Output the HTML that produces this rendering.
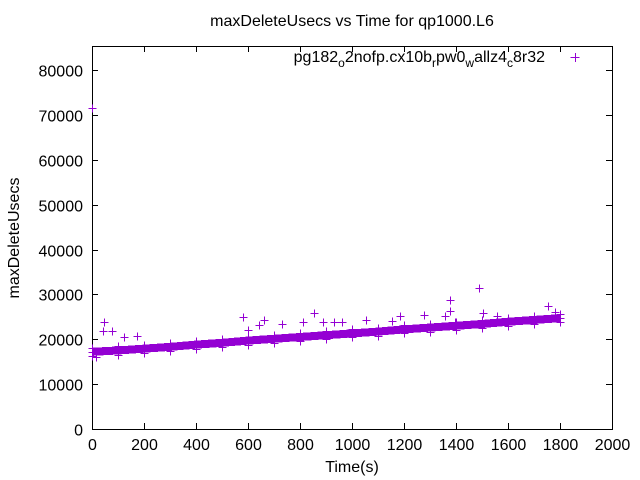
<!DOCTYPE html>
<html><head><meta charset="utf-8"><style>
body{margin:0;background:#fff}
svg{display:block;font-family:"Liberation Sans",sans-serif}
</style></head><body>
<svg id="chart" width="640" height="480">
<text x="352" y="26" font-size="16" text-anchor="middle">maxDeleteUsecs vs Time for qp1000.L6</text>
<text x="352" y="472" font-size="16" text-anchor="middle">Time(s)</text>
<text transform="translate(19,238) rotate(-90)" font-size="16" text-anchor="middle">maxDeleteUsecs</text>
<g id="axes" shape-rendering="crispEdges"></g>
<g id="marks" shape-rendering="crispEdges"></g>
<g>
<text x="545" y="62" font-size="16" text-anchor="end">pg182<tspan dy="5" font-size="12">o</tspan><tspan dy="-5">2nofp.cx10b</tspan><tspan dy="5" font-size="12">r</tspan><tspan dy="-5">pw0</tspan><tspan dy="5" font-size="12">w</tspan><tspan dy="-5">allz4</tspan><tspan dy="5" font-size="12">c</tspan><tspan dy="-5">8r32</tspan></text>
<path d="M570.5 57.5h9M575.5 53v9" stroke="#9400d3" stroke-width="1" shape-rendering="crispEdges"/>
</g>
</svg>
<script>
const xTicks=[0,200,400,600,800,1000,1200,1400,1600,1800,2000];
const yTicks=[0,10000,20000,30000,40000,50000,60000,70000,80000];
const bandTimes=[0,100,200,300,400,500,600,700,800,900,1000,1100,1200,1300,1400,1500,1600,1700,1800];
const bandCenter=[17200,17500,17900,18300,18800,19200,19700,20100,20500,20900,21300,21700,22200,22600,23000,23400,23900,24300,24700];
const outT=[0,15,46,41,76,124,172,580,601,663,644,732,855,813,890,931,960,1054,1152,1185,1278,1377,1377,1358,1488,1505,1556,1755,1781,1396];
const outV=[71500,16000,23800,21800,21800,20600,20700,25000,22100,24400,23100,23500,25800,23800,23800,23800,23800,24200,24000,25200,25400,28700,26300,25200,31400,25800,25200,27400,26000,23900];
const L=92,R=612,T=46,B=429;
const sx=v=>L+(v-0)/2000*(R-L);
const sy=v=>B-v/80000*(B-70);
const NS="http://www.w3.org/2000/svg";
const axes=document.getElementById('axes'),marks=document.getElementById('marks');
function mk(tag,attrs,parent){const e=document.createElementNS(NS,tag);for(const k in attrs)e.setAttribute(k,attrs[k]);parent.appendChild(e);return e;}
const frame=mk('rect',{x:L+0.5,y:T+0.5,width:R-L,height:B-T,fill:'none',stroke:'#000','stroke-width':1},axes);


xTicks.forEach(v=>{const x=Math.round(sx(v))+0.5;
const t=mk('path',{d:`M${x} ${B}v-6M${x} ${T}v6`,stroke:'#000'},axes);


const l=mk('text',{x:x,y:B+21,'font-size':16,'text-anchor':'middle'},axes);l.textContent=v;

});
yTicks.forEach(v=>{const y=Math.round(sy(v))+0.5;
const t=mk('path',{d:`M${L} ${y}h6M${R} ${y}h-6`,stroke:'#000'},axes);


const l=mk('text',{x:L-9,y:y+6,'font-size':16,'text-anchor':'end'},axes);l.textContent=v;

});
let up='',dn='';
bandTimes.forEach((t,i)=>{up+=(i?'L':'M')+sx(t)+' '+sy(bandCenter[i]+900);});
for(let i=bandTimes.length-1;i>=0;i--){dn+='L'+sx(bandTimes[i])+' '+sy(bandCenter[i]-900);}
const band=mk('path',{d:up+dn+'Z',fill:'#9400d3'},marks);


bandTimes.forEach((t,i)=>{[-900,0,900].forEach(o=>{const x=Math.round(sx(t))+0.5,y=Math.round(sy(bandCenter[i]+o))+0.5;
const p=mk('path',{d:`M${x-4} ${y}h8M${x} ${y-4}v8`,stroke:'#9400d3'},marks);

});});
outT.forEach((t,i)=>{const x=Math.round(sx(t))+0.5,y=Math.round(sy(outV[i]))+0.5;
const p=mk('path',{d:`M${x-4} ${y}h8M${x} ${y-4}v8`,stroke:'#9400d3'},marks);

});
</script>
</body></html>
